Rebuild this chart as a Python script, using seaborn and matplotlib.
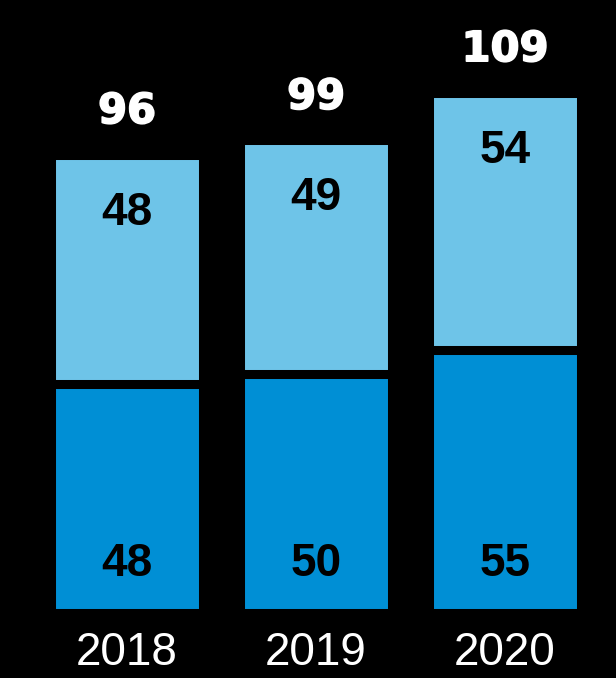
import matplotlib
matplotlib.use("Agg")
import matplotlib.pyplot as plt
import matplotlib.patheffects as pe
import seaborn as sns
import pandas as pd

years = ["2018", "2019", "2020"]
bottom_vals = [48, 50, 55]
top_vals = [48, 49, 54]
totals = [96, 99, 109]

sns.set_style("dark")
plt.rcParams["font.family"] = ["Liberation Sans", "DejaVu Sans"]

df = pd.DataFrame({"year": years, "bottom": bottom_vals, "top": top_vals, "total": totals})

fig = plt.figure(figsize=(6.16, 6.78), dpi=100, facecolor="black")
ax = fig.add_axes([0, 65.5 / 678, 1, 1 - 65.5 / 678])
ax.set_facecolor("black")

light = "#6EC4E8"
dark = "#008FD5"
lw = 6.5

sns.barplot(data=df, x="year", y="total", color=light, saturation=1, width=0.8,
            edgecolor="black", linewidth=lw, ax=ax)
sns.barplot(data=df, x="year", y="bottom", color=dark, saturation=1, width=0.8,
            edgecolor="black", linewidth=lw, ax=ax)

ax.set_xlim(-127 / 189, (616 - 127) / 189)
ax.set_ylim(0, 612.5 / 4.77)

for i in range(len(years)):
    ax.text(i, totals[i] + 9.1, str(totals[i]), ha="center", va="center",
            color="white", fontsize=30, fontweight="bold", family="DejaVu Sans",
            path_effects=[pe.withStroke(linewidth=1.2, foreground="white")])
    ax.text(i, totals[i] - 12.2, str(top_vals[i]), ha="center", va="center",
            color="black", fontsize=33, fontweight="bold")
    ax.text(i, 10.2, str(bottom_vals[i]), ha="center", va="center",
            color="black", fontsize=33, fontweight="bold")

ax.set_xlabel("")
ax.set_ylabel("")
ax.set_yticks([])
ax.tick_params(axis="x", length=0, pad=13.5, labelsize=33, labelcolor="white")
ax.grid(False)
for s in ax.spines.values():
    s.set_visible(False)

fig.savefig("out.png", dpi=100, facecolor="black")
